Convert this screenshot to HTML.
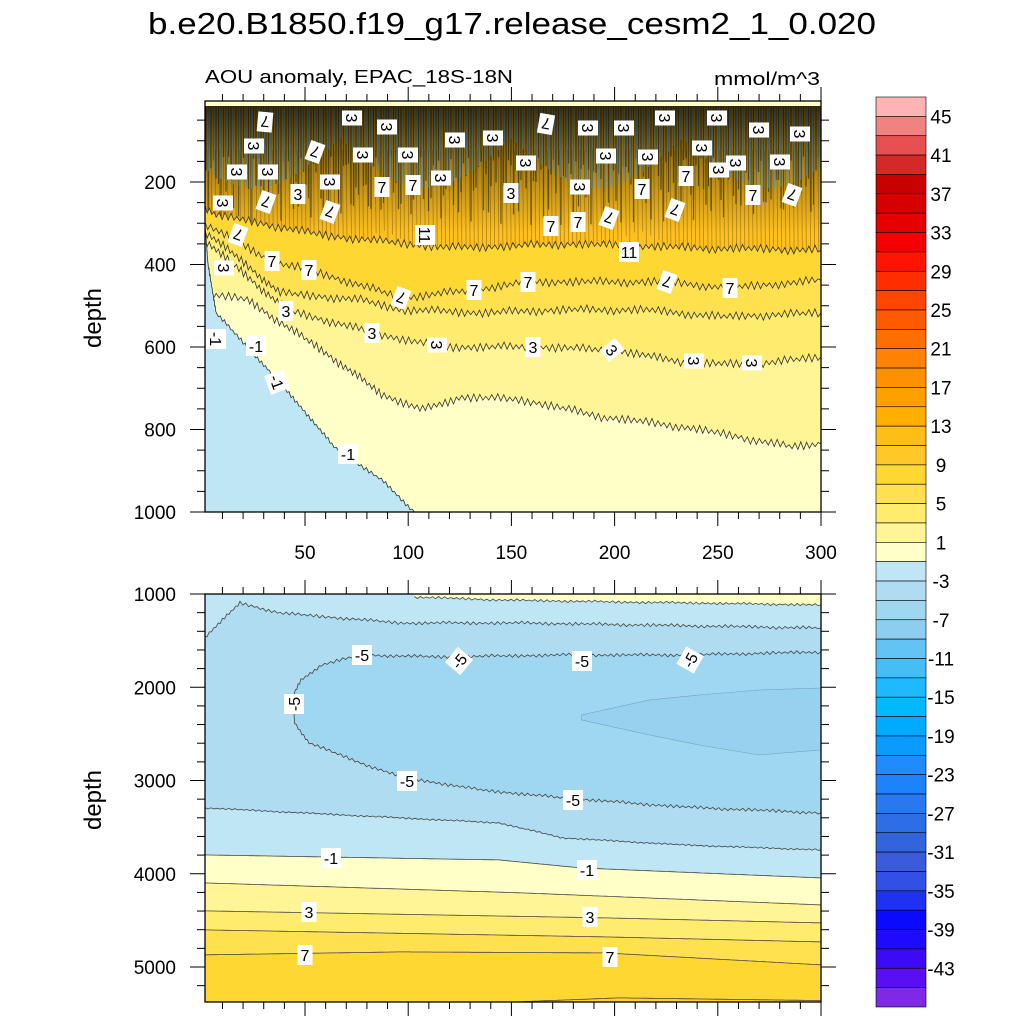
<!DOCTYPE html>
<html><head><meta charset="utf-8">
<style>
html,body{margin:0;padding:0;background:#fff;}
svg text{font-family:"Liberation Sans",Arial,sans-serif;}
</style></head>
<body>
<svg id="chart" width="1024" height="1024" viewBox="0 0 1024 1024" xmlns="http://www.w3.org/2000/svg">
<defs>
<clipPath id="clipTop"><rect x="205" y="101" width="616" height="411"/></clipPath>
<clipPath id="clipBot"><rect x="205" y="594" width="616" height="408"/></clipPath>
<linearGradient id="darkGrad" x1="0" y1="0" x2="0" y2="1">
<stop offset="0" stop-color="#000" stop-opacity="0.75"/>
<stop offset="0.45" stop-color="#000" stop-opacity="0.35"/>
<stop offset="1" stop-color="#000" stop-opacity="0"/>
</linearGradient>
</defs>
<text x="512" y="34" font-size="31" text-anchor="middle" textLength="728" lengthAdjust="spacingAndGlyphs">b.e20.B1850.f19_g17.release_cesm2_1_0.020</text>
<text x="205" y="83" font-size="18" textLength="308" lengthAdjust="spacingAndGlyphs">AOU anomaly, EPAC_18S-18N</text>
<text x="820" y="85" font-size="18" text-anchor="end" textLength="106" lengthAdjust="spacingAndGlyphs">mmol/m^3</text>
<g id="topPanel"></g>
<g id="botPanel"></g>
<g id="axes"></g>
<g id="colorbar"></g>
</svg>
<script>
// ---- data ----
const c1X=[1.5,7,22,58,87,107,126,155,195,234,286,300];
const c1D=[480,474,486,607,714,753,721,728,770,794,842,835];
const c3X=[1.5,7,41,83,116,161,198,239,269,300];
const c3D=[340,365,510,566,600,600,607,641,641,624];
const c5X=[1.5,7,38,77,97,136,175,214,253,300];
const c5D=[320,341,469,486,510,517,510,510,527,517];
const c7X=[1.5,7,34,52,97,132,158,225,256,300];
const c7D=[300,316,394,413,481,462,442,442,457,438];
const c9X=[1.5,7,60,120,180,240,300];
const c9D=[260,280,330,360,350,360,365];
const blueX=[1.5,3,7,28,48,64,87,103];
const blueD=[300,400,518,632,745,842,922,1000];
const paleX=[103,144,202,241,300];
const paleD=[1032,1064,1086,1097,1118];
const m3aX=[1.5,18.5,38,96.5,155,213,300];
const m3aD=[1461,1097,1204,1311,1311,1332,1365];
const m3bX=[1.5,144,175,233,300];
const m3bD=[3294,3455,3616,3691,3745];
const m5X=[300,233,175,116,77,58,48,44,45,52,77,96.5,135,175,233,300];
const m5D=[1622,1654,1654,1675,1654,1761,1922,2104,2383,2597,2812,2962,3101,3187,3284,3348];
const m7X=[184,217,241,270,300,300,270,241,217,184];
const m7D=[2297,2136,2083,2029,2008,2672,2726,2619,2512,2351];
const m1X=[1.5,144,184,300];const m1D=[3798,3852,3938,4045];
const p1X=[1.5,155,300];const p1D=[4098,4205,4334];
const p3X=[1.5,195,300];const p3D=[4398,4473,4527];
const p5X=[1.5,195,300];const p5D=[4602,4677,4731];
const p7X=[1.5,96,195,300];const p7D=[4870,4838,4849,4977];
const p9X=[100,202,300];const p9D=[5420,5331,5360];
const cbColors=["#FFB4B4","#F08282","#E65050","#D72828","#C80000","#D70000","#E60000","#F50000","#FF1400","#FF2D00","#FF4600","#FF5A00","#FF6E00","#FF8200","#FF9100","#FFA000","#FFAF00","#FFBE14","#FFC828","#FFD732","#FFE150","#FFEB6E","#FFF596","#FFFFC8","#BEE6F5","#AFDCF0","#A0D7F0","#8CCDF0","#64C3F5","#46BEF5","#1EB9FF","#00B9FF","#00AAFF","#0A9BFF","#1E8CFF","#1E82FA","#2878F0","#2D6EE6","#3264DC","#3C5ADC","#3250E6","#1E32F0","#0A0AFF","#1E0AFF","#3C0AF5","#5A0FF0","#7F28E6"];
const cbLabels=[45,41,37,33,29,25,21,17,13,9,5,1,-3,-7,-11,-15,-19,-23,-27,-31,-35,-39,-43];
const xTicks=[50,100,150,200,250,300];
const topYTicks=[200,400,600,800,1000];
const botYTicks=[1000,2000,3000,4000,5000];
const topLabels=[[254,146,"3",90],[265,122,"7",185],[352,118,"3",90],[387,127,"3",90],[315,152,"7",200],[363,155,"3",90],[408,155,"3",90],[455,140,"3",90],[493,138,"3",90],[526,163,"3",90],[546,124,"7",190],[588,128,"3",90],[624,128,"3",90],[606,156,"3",90],[648,157,"3",90],[665,118,"3",90],[702,148,"3",90],[717,118,"3",90],[736,163,"3",90],[759,130,"3",90],[780,162,"3",90],[800,134,"3",90],[237,172,"3",90],[268,172,"3",90],[223,203,"3",90],[266,202,"7",200],[298,194,"3",0],[330,182,"3",90],[330,212,"7",200],[382,187,"7",0],[413,185,"7",0],[441,178,"3",90],[511,193,"3",0],[580,187,"3",90],[642,189,"7",0],[686,176,"7",0],[719,170,"3",90],[753,195,"7",0],[792,195,"7",200],[675,210,"7",200],[609,218,"7",200],[551,226,"7",0],[578,222,"7",0],[238,235,"7",200],[425,235,"11",90],[629,252,"11",0],[224,268,"3",90],[272,261,"7",0],[309,270,"7",0],[401,298,"7",200],[474,290,"7",0],[528,282,"7",0],[667,282,"7",200],[730,288,"7",0],[286,311,"3",0],[372,333,"3",0],[437,345,"3",90],[533,347,"3",0],[612,350,"3",50],[694,361,"3",90],[752,363,"3",90],[216,339,"-1",90],[256,346,"-1",0],[277,382,"-1",70],[348,454,"-1",0]];
const botLabels=[[362,655,"-5",0],[459,661,"-5",-50],[582,661,"-5",0],[690,660,"-5",-60],[294,704,"-5",-90],[407,781,"-5",0],[573,800,"-5",0],[331,858,"-1",0],[587,870,"-1",0],[309,912,"3",0],[590,917,"3",0],[305,955,"7",0],[610,957,"7",0]];

const NS="http://www.w3.org/2000/svg";
const xp=x=>201.8+2.064*x;
const ty=d=>99.5+0.4125*d;
const by=D=>594+(D-1000)*0.09325;
function mk(tag,attrs,parent){const e=document.createElementNS(NS,tag);for(const k in attrs)e.setAttribute(k,attrs[k]);parent.appendChild(e);return e;}
function pts(X,D,yf,amp){
  const out=[];let n=0;
  for(let i=0;i<X.length-1;i++){
    const x0=xp(X[i]),y0=yf(D[i]),x1=xp(X[i+1]),y1=yf(D[i+1]);
    const len=Math.hypot(x1-x0,y1-y0),steps=Math.max(1,Math.round(len/3));
    for(let s=0;s<steps;s++){const t=s/steps;const o=amp?((n%2?1:-1)*amp*(0.3+0.7*Math.abs(Math.sin(n*1.7)*Math.cos(n*0.37)))):0;n++;out.push([x0+(x1-x0)*t,y0+(y1-y0)*t+o]);}
  }
  out.push([xp(X[X.length-1]),yf(D[D.length-1])]);
  return out;
}
const ps=a=>a.map(p=>p[0].toFixed(1)+","+p[1].toFixed(1)).join(" ");

// ---- top panel ----
const topG=document.getElementById('topPanel');
const tg=mk('g',{'clip-path':'url(#clipTop)'},topG);
let r=mk('rect',{x:205,y:101,width:616,height:411,fill:'#FFC020'},tg);


const sg=mk('g',{},tg);


for(let x=206;x<820;x+=2.5){
  const h=50+70*Math.abs(Math.sin(x*0.731)*Math.cos(x*0.213));
  mk('line',{x1:x,y1:106,x2:x,y2:106+h,stroke:'#1a1a10','stroke-width':1.3,'stroke-opacity':0.55},sg);
}
for(let x=208;x<820;x+=6.3){
  const h=30+50*Math.abs(Math.sin(x*0.517));
  mk('line',{x1:x,y1:108,x2:x,y2:108+h,stroke:'#7CC8EE','stroke-width':2,'stroke-opacity':0.75},sg);
}
mk('rect',{x:205,y:104,width:616,height:130,fill:'url(#darkGrad)'},sg);
for(let x=207;x<820;x+=4.1){
  const h=80+80*Math.abs(Math.sin(x*0.377));
  mk('line',{x1:x,y1:150,x2:x+1,y2:150+h,stroke:'#3a3010','stroke-width':0.7,'stroke-opacity':0.45},sg);
}
r=mk('rect',{x:205,y:101,width:616,height:5,fill:'#FFFFC8'},tg);


const topBands=[[c9X,c9D,'#FFD732','9'],[c7X,c7D,'#FFE150','7'],[c5X,c5D,'#FFEB6E','5'],[c3X,c3D,'#FFF596','3'],[c1X,c1D,'#FFFFC8','1']];
topBands.forEach(b=>{
  const p=pts(b[0],b[1],ty,5);
  const poly=p.concat([[821,512],[205,512],[p[0][0]-5,p[0][1]]]);
  const e=mk('polygon',{points:ps(poly),fill:b[2]},tg);
  
  
  const l=mk('polyline',{points:ps(p),fill:'none',stroke:'#333','stroke-width':0.8},tg);
  
  
});
{const p=pts(blueX,blueD,ty,2.5);
 const poly=[[205,ty(blueD[0])]].concat(p).concat([[205,512]]);
 const e=mk('polygon',{points:ps(poly),fill:'#BEE6F5'},tg);
 
 
 const l=mk('polyline',{points:ps(p),fill:'none',stroke:'#333','stroke-width':0.8},tg);
 
 }
function addLabels(list,g,name){
  list.forEach(L=>{
    const lg=mk('g',{transform:`translate(${L[0]},${L[1]}) rotate(${L[3]})`},g);
    
    
    const w=L[2].length>1?20:15;
    mk('rect',{x:-w/2,y:-10,width:w,height:20,fill:'#fff'},lg);
    const t=mk('text',{x:0,y:6,'font-size':16,'text-anchor':'middle',fill:'#000'},lg);t.textContent=L[2];
  });
}
addLabels(topLabels,tg,'contour-label');

// ---- bottom panel ----
const botG=document.getElementById('botPanel');
const bg=mk('g',{'clip-path':'url(#clipBot)'},botG);
r=mk('rect',{x:205,y:594,width:616,height:408,fill:'#BEE6F5'},bg);


{const p=pts(paleX,paleD,by,1.5);
 const e=mk('polygon',{points:ps([[p[0][0],594]].concat(p).concat([[821,594]])),fill:'#FFFFC8'},bg);
 
 
 const l=mk('polyline',{points:ps(p),fill:'none',stroke:'#444','stroke-width':0.8},bg);
 
 }
{const a=pts(m3aX,m3aD,by,2),b=pts(m3bX,m3bD,by,1);
 const e=mk('polygon',{points:ps(a.concat(b.slice().reverse())),fill:'#AFDCF0'},bg);
 
 
 let l=mk('polyline',{points:ps(a),fill:'none',stroke:'#444','stroke-width':0.8},bg);
 
 
 l=mk('polyline',{points:ps(b),fill:'none',stroke:'#444','stroke-width':0.8},bg);
 
 }
{const p=pts(m5X,m5D,by,2);
 const e=mk('polygon',{points:ps(p),fill:'#A0D7F0',stroke:'#444','stroke-width':0.8},bg);
 
 }
{const p=pts(m7X,m7D,by,0);
 const e=mk('polygon',{points:ps(p),fill:'#96D2F0',stroke:'#55708a','stroke-width':0.6,'stroke-opacity':0.5},bg);
 
 }
const botBands=[[m1X,m1D,'#FFFFC8','minus1'],[p1X,p1D,'#FFF596','1'],[p3X,p3D,'#FFEB6E','3'],[p5X,p5D,'#FFE150','5'],[p7X,p7D,'#FFD732','7'],[p9X,p9D,'#FFCF2A','9']];
botBands.forEach(b=>{
  const p=pts(b[0],b[1],by,0);
  const poly=p.concat([[821,1002],[p[0][0],1002]]);
  if(p[0][0]>206){poly.splice(0,0,[p[0][0]-60,1002]);}
  const e=mk('polygon',{points:ps(poly),fill:b[2]},bg);
  
  
  const l=mk('polyline',{points:ps(p),fill:'none',stroke:'#444','stroke-width':0.8},bg);
  
  
});
addLabels(botLabels,bg,'contour-label');

// ---- axes ----
const ax=document.getElementById('axes');
function frame(y0,y1,name){const e=mk('rect',{x:205,y:y0,width:616,height:y1-y0,fill:'none',stroke:'#000','stroke-width':1.3},ax);

}
frame(101,512,'upper-plot-frame');frame(594,1002,'lower-plot-frame');
function tick(x1,y1,x2,y2){mk('line',{x1:x1,y1:y1,x2:x2,y2:y2,stroke:'#000','stroke-width':1},ax);}
[[101,512],[594,1002]].forEach(([yt,yb])=>{
  for(let v=10;v<=300;v+=10){const x=xp(v),L=v%50===0?14:7;tick(x,yt,x,yt-L);tick(x,yb,x,yb+L);}
});
for(let d=50;d<=1000;d+=50){const y=ty(d),L=d%200===0?15:8;tick(205,y,205-L,y);tick(821,y,821+L,y);}
for(let D=1000;D<=5200;D+=200){const y=by(D),L=D%1000===0?15:8;tick(205,y,205-L,y);tick(821,y,821+L,y);}
xTicks.forEach(v=>{const t=mk('text',{x:xp(v),y:559,'font-size':19,'text-anchor':'middle'},ax);t.textContent=v;

});
topYTicks.forEach(v=>{const t=mk('text',{x:176,y:ty(v)+7,'font-size':19,'text-anchor':'end'},ax);t.textContent=v;

});
botYTicks.forEach(v=>{const t=mk('text',{x:176,y:by(v)+7,'font-size':19,'text-anchor':'end'},ax);t.textContent=v;

});
[[318,'upper-y-axis-title'],[800,'lower-y-axis-title']].forEach(([y,n])=>{const t=mk('text',{x:0,y:0,'font-size':24,'text-anchor':'middle',transform:`translate(101,${y}) rotate(-90)`},ax);t.textContent='depth';

});

// ---- colorbar ----
const cb=document.getElementById('colorbar');
const cbTop=97,cbH=910/cbColors.length;
cbColors.forEach((c,i)=>{const e=mk('rect',{x:876,y:cbTop+i*cbH,width:50,height:cbH,fill:c,stroke:'#000','stroke-width':0.6},cb);

});
cbLabels.forEach(v=>{const k=(47-v)/2;const t=mk('text',{x:941,y:cbTop+k*cbH+7,'font-size':19,'text-anchor':'middle'},cb);t.textContent=v;

});
</script>
</body></html>
